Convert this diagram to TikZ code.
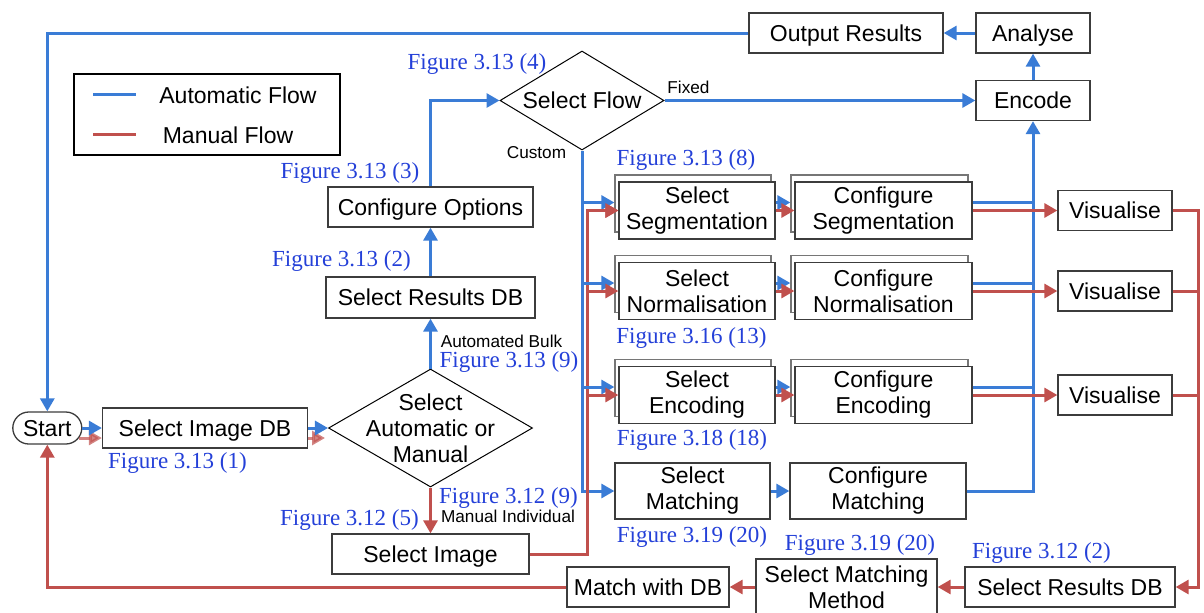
\documentclass[tikz,border=0pt]{standalone}
\usepackage{fontspec}
\setmainfont{Liberation Sans}
\newfontfamily\figfont{Liberation Serif}
\usetikzlibrary{arrows.meta,shapes.geometric,shadows}
\definecolor{flowblue}{HTML}{3A7CD6}
\definecolor{flowred}{HTML}{C0504D}
\definecolor{figblue}{HTML}{2440D8}
\definecolor{boxgrey}{HTML}{3C3C3C}
\newcommand\flowfont{\fontsize{11.5}{13}\selectfont}
\tikzset{
  box/.style={draw=boxgrey,line width=0.65pt,fill=white,align=center,inner sep=0pt,font=\flowfont},
  oneline/.style={box,text height=8.3pt,text depth=0pt},
  stackbox/.style={box,copy shadow={shadow xshift=-2pt,shadow yshift=3.5pt,draw=boxgrey!70}},
  decision/.style={diamond,draw=black,line width=0.5pt,inner sep=0pt},
  declbl/.style={font=\flowfont,align=center},
  figlbl/.style={text=figblue,font=\figfont\fontsize{11.5}{13}\selectfont,inner sep=0pt},
  smalllbl/.style={font=\fontsize{8.6}{10}\selectfont,inner sep=0pt},
  autoflow/.style={draw=flowblue,line width=1.5pt},
  manflow/.style={draw=flowred,line width=1.5pt},
  flowtip/.style={-{Triangle[length=6.5pt,width=7pt]}}
}

\begin{document}
\begin{tikzpicture}[x=0.5pt,y=-0.5pt]
  \useasboundingbox (0,0) rectangle (1204,612);

  \node[draw=black,line width=0.6pt,minimum width=133pt,minimum height=40.5pt] (legend) at (207,114.5) {};
  \draw[autoflow] (93,94) -- (136,94);
  \draw[manflow] (93,134) -- (136,134);
  \node[font=\flowfont,inner sep=0pt,text height=8.3pt,text depth=0pt] (autotxt) at (238,95) {Automatic Flow};
  \node[font=\flowfont,inner sep=0pt,text height=8.3pt,text depth=0pt] (mantxt) at (228,135) {Manual Flow};

  \node[oneline,rounded corners=8pt,minimum width=34.5pt,minimum height=16pt] (start) at (47.3,428) {Start};
  \node[oneline,minimum width=102.5pt,minimum height=20pt] (imgdb) at (205,428) {Select Image DB};
  \node[decision,minimum width=102pt,minimum height=59pt,label={[declbl]center:{Select\\Automatic or\\Manual}}] (automan) at (430.5,428) {};
  \node[oneline,minimum width=104.5pt,minimum height=20.5pt] (resdb) at (430.5,297.5) {Select Results DB};
  \node[oneline,minimum width=102.5pt,minimum height=20pt] (cfgopt) at (430.5,207) {Configure Options};
  \node[decision,minimum width=82pt,minimum height=49.5pt,label={[declbl,text height=8.3pt,text depth=0pt]center:Select Flow}] (selflow) at (582,100.5) {};
  \node[oneline,minimum width=57pt,minimum height=20pt] (encode) at (1033,100.5) {Encode};
  \node[oneline,minimum width=57pt,minimum height=20pt] (analyse) at (1033,33) {Analyse};
  \node[oneline,minimum width=97pt,minimum height=20pt] (outres) at (846,33) {Output Results};
  \node[oneline,minimum width=98.5pt,minimum height=20pt] (selimg) at (430.5,554) {Select Image};

  \foreach \n/\t/\y in {seg/Segmentation/210.5,norm/Normalisation/291,enc/Encoding/395} {
    \node[stackbox,minimum width=78pt,minimum height=28.5pt] (sel\n) at (697,\y) {Select\\\t};
    \node[stackbox,minimum width=88.5pt,minimum height=28.5pt] (cfg\n) at (883.5,\y) {Configure\\\t};
    \node[oneline,minimum width=57pt,minimum height=20pt] (vis\n) at (1115,\y) {Visualise};
  }
  \node[box,minimum width=77.5pt,minimum height=28pt] (selmatch) at (692.5,491) {Select\\Matching};
  \node[box,minimum width=88pt,minimum height=28pt] (cfgmatch) at (878,491) {Configure\\Matching};

  \node[oneline,minimum width=105pt,minimum height=20pt] (resdbm) at (1070,587) {Select Results DB};
  \node[box,minimum width=90.5pt,minimum height=28pt] (selmm) at (846.5,587) {Select Matching\\Method};
  \node[oneline,minimum width=81pt,minimum height=20pt] (matchdb) at (648,587) {Match with DB};

  \node[figlbl] (fig1) at (177.5,463) {Figure 3.13 (1)};
  \node[figlbl] (fig2) at (341.5,261) {Figure 3.13 (2)};
  \node[figlbl] (fig3) at (350,173) {Figure 3.13 (3)};
  \node[figlbl] (fig4) at (477,64) {Figure 3.13 (4)};
  \node[figlbl] (fig9a) at (509,362) {Figure 3.13 (9)};
  \node[figlbl] (fig9m) at (508.5,498) {Figure 3.12 (9)};
  \node[figlbl] (fig5) at (349.5,520) {Figure 3.12 (5)};
  \node[figlbl] (fig8) at (686,160) {Figure 3.13 (8)};
  \node[figlbl] (fig13) at (691.5,338) {Figure 3.16 (13)};
  \node[figlbl] (fig18) at (692,440) {Figure 3.18 (18)};
  \node[figlbl] (fig20a) at (692,537) {Figure 3.19 (20)};
  \node[figlbl] (fig20b) at (860,545) {Figure 3.19 (20)};
  \node[figlbl] (fig2m) at (1041.5,553) {Figure 3.12 (2)};

  \node[smalllbl] (fixed) at (688.5,87) {Fixed};
  \node[smalllbl] (custom) at (536.5,153) {Custom};
  \node[smalllbl] (bulk) at (501.5,341) {Automated Bulk};
  \node[smalllbl] (indiv) at (508,516) {Manual Individual};

  \coordinate (redtop) at ([xshift=2.5pt]selflow.south |- selseg.west);
  \coordinate (rtrunk) at ([xshift=13pt]visseg.east);

  \draw[manflow,flowtip,opacity=0.7] ([shift={(-3,10)}]start.east) -- ([yshift=-5pt]imgdb.west);
  \draw[manflow,flowtip,opacity=0.7] ([yshift=-5pt]imgdb.east) -- ([shift={(-3,10)}]automan.west);
  \draw[autoflow,flowtip] (start) -- (imgdb);
  \draw[autoflow,flowtip] (imgdb) -- (automan);
  \draw[autoflow,flowtip] (automan) -- (resdb);
  \draw[autoflow,flowtip] (resdb) -- (cfgopt);
  \draw[autoflow,flowtip] (cfgopt.north) |- (selflow.west);
  \draw[autoflow,flowtip] (selflow.east) -- (encode.west);
  \draw[autoflow,flowtip] (encode) -- (analyse);
  \draw[autoflow,flowtip] (analyse) -- (outres);
  \draw[autoflow,flowtip] (outres.west) -| (start.north);
  \draw[autoflow,flowtip] (selflow.south) |- (selmatch.west);
  \draw[autoflow,flowtip] (selmatch) -- (cfgmatch);
  \draw[autoflow,flowtip] (cfgmatch.east) -| (encode.south);

  \draw[manflow,flowtip] (automan) -- (selimg);
  \draw[manflow,flowtip] (selimg.east) -| (redtop) -- (selseg.west);
  \draw[manflow,flowtip] (visseg.east) -- (rtrunk) |- (resdbm.east);
  \foreach \n in {seg,norm,enc} {
    \draw[autoflow,flowtip] ([yshift=4pt]sel\n.west -| selflow.south) -- ([shift={(-4,-8)}]sel\n.west);
    \draw[autoflow,flowtip] ([yshift=4pt]sel\n.east) -- ([shift={(-4,-8)}]cfg\n.west);
    \draw[autoflow] ([yshift=4pt]cfg\n.east) -- ([yshift=4pt]cfg\n.east -| encode.south);
    \draw[manflow,flowtip] (redtop |- sel\n.west) -- (sel\n.west);
    \draw[manflow,flowtip] (sel\n) -- (cfg\n);
    \draw[manflow,flowtip] (cfg\n) -- (vis\n);
    \draw[manflow] (vis\n.east) -- (vis\n.east -| rtrunk);
  }
  \draw[manflow,flowtip] (resdbm) -- (selmm);
  \draw[manflow,flowtip] (selmm) -- (matchdb);
  \draw[manflow,flowtip] (matchdb.west) -| (start.south);
\end{tikzpicture}
\end{document}
